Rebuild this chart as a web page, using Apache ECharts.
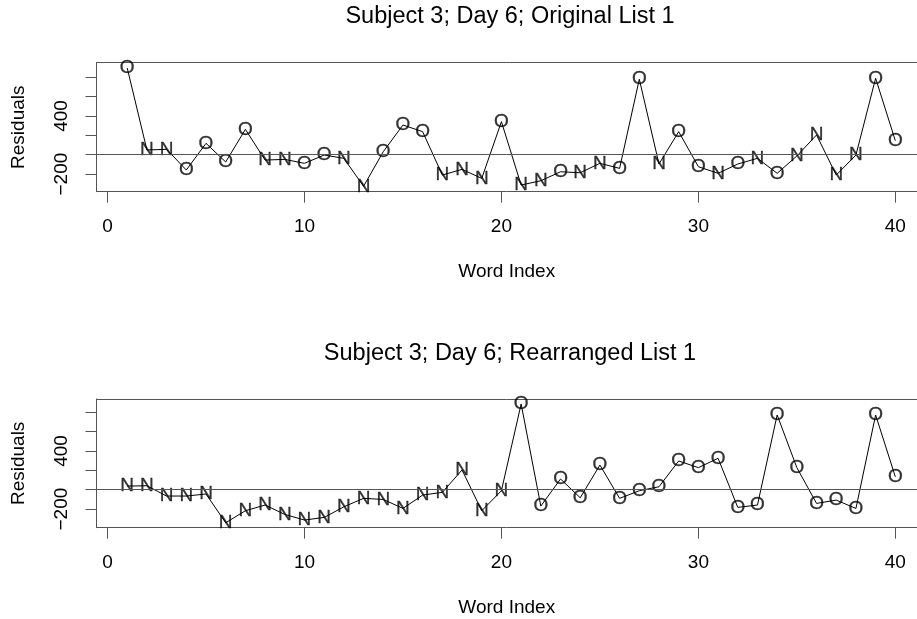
<!DOCTYPE html>
<html>
<head>
<meta charset="utf-8">
<script src="https://cdn.jsdelivr.net/npm/echarts@6/dist/echarts.min.js"></script>
<style>
  html, body { margin: 0; padding: 0; background: #fff; overflow: hidden; }
  #chart { width: 917px; height: 619px; }
</style>
</head>
<body>
<div id="chart"></div>
<script>
// Word positions along the list
const wordIndex = [1, 2, 3, 4, 5, 6, 7, 8, 9, 10,
                   11, 12, 13, 14, 15, 16, 17, 18, 19, 20,
                   21, 22, 23, 24, 25, 26, 27, 28, 29, 30,
                   31, 32, 33, 34, 35, 36, 37, 38, 39, 40];

// Original list: word type (N = new, O = old) and residuals
const originalType = ['O', 'N', 'N', 'O', 'O', 'O', 'O', 'N', 'N', 'O',
                      'O', 'N', 'N', 'O', 'O', 'O', 'N', 'N', 'N', 'O',
                      'N', 'N', 'O', 'N', 'N', 'O', 'O', 'N', 'O', 'O',
                      'N', 'O', 'N', 'O', 'N', 'N', 'N', 'N', 'O', 'O'];
const originalResid = [896, 49, 56, -158, 118, -75, 262, -55, -48, -89,
                       -3, -37, -326, 31, 307, 238, -210, -151, -244, 341,
                       -313, -269, -176, -186, -89, -141, 780, -96, 238, -124,
                       -192, -96, -37, -192, -13, 204, -210, -3, 790, 145];

// Rearranged list: word type and residuals
const rearrangedType = ['N', 'N', 'N', 'N', 'N', 'N', 'N', 'N', 'N', 'N',
                        'N', 'N', 'N', 'N', 'N', 'N', 'N', 'N', 'N', 'N',
                        'O', 'O', 'O', 'O', 'O', 'O', 'O', 'O', 'O', 'O',
                        'O', 'O', 'O', 'O', 'O', 'O', 'O', 'O', 'O', 'O'];
const rearrangedResid = [38, 41, -65, -65, -44, -341, -217, -158, -255, -313,
                         -286, -176, -89, -100, -193, -55, -27, 204, -217, -10,
                         886, -169, 111, -83, 255, -89, -10, 31, 297, 228,
                         325, -182, -158, 772, 228, -141, -107, -193, 772, 134];

// Axis ticks and the tick labels that are printed
const xTicks = [0, 10, 20, 30, 40];
const yTicks = [-200, 0, 200, 400, 600, 800];
const yTickLabels = [-200, 400];

const titles = ['Subject 3; Day 6; Original List 1', 'Subject 3; Day 6; Rearranged List 1'];

const FONT = '"Liberation Sans", Arial, Helvetica, sans-serif';
const BOX = '#555555';
const AXIS_FONT = 19;

// The plotting box runs past the right edge of the page, so only the
// left, top and bottom sides of the frame are visible.
const X_MIN = -0.56, X_MAX = 41.1;

const panels = [
  { top: 62.7, height: 129, yMin: -382, yMax: 951, types: originalType, resid: originalResid, titleY: 17 },
  { top: 399, height: 128.7, yMin: -392, yMax: 937, types: rearrangedType, resid: rearrangedResid, titleY: 353.5 }
];

const minus = v => (v < 0 ? '\u2212' + Math.abs(v) : String(v));

const grid = [], xAxis = [], yAxis = [], series = [], graphic = [];
const frameLine = { show: true, onZero: false, lineStyle: { color: BOX, width: 1 } };

panels.forEach((p, i) => {
  grid.push({ left: 96.5, top: p.top, right: 0, height: p.height, show: false });
  // bottom axis
  xAxis.push({
    type: 'value', gridIndex: i, position: 'bottom', min: X_MIN, max: X_MAX,
    axisLine: frameLine,
    splitLine: { show: false },
    axisTick: { show: true, customValues: xTicks, length: 11, lineStyle: { color: BOX, width: 1 } },
    axisLabel: { customValues: xTicks, margin: 25.5, fontSize: AXIS_FONT, color: '#000', fontFamily: FONT },
    name: 'Word Index', nameLocation: 'middle', nameGap: 71,
    nameTextStyle: { fontSize: AXIS_FONT, color: '#000', fontFamily: FONT }
  });
  // top edge of the frame
  xAxis.push({
    type: 'value', gridIndex: i, position: 'top', min: X_MIN, max: X_MAX,
    axisLine: frameLine,
    axisTick: { show: false }, axisLabel: { show: false }, splitLine: { show: false }
  });
  yAxis.push({
    type: 'value', gridIndex: i, position: 'left', min: p.yMin, max: p.yMax,
    axisLine: frameLine,
    splitLine: { show: false },
    axisTick: { show: true, customValues: yTicks, length: 11, lineStyle: { color: BOX, width: 1 } },
    axisLabel: { customValues: yTickLabels, rotate: 90, margin: 25, fontSize: AXIS_FONT, color: '#000',
                 fontFamily: FONT, formatter: minus },
    name: 'Residuals', nameLocation: 'middle', nameGap: 68,
    nameTextStyle: { fontSize: AXIS_FONT, color: '#000', fontFamily: FONT }
  });
  const pts = wordIndex.map((x, k) => [x, p.resid[k], p.types[k]]);
  series.push({
    type: 'line', xAxisIndex: 2 * i, yAxisIndex: i,
    data: pts.map(d => [d[0], d[1]]),
    symbol: 'none', silent: true,
    lineStyle: { color: '#000', width: 1 },
    markLine: {
      silent: true, symbol: ['none', 'none'], label: { show: false },
      lineStyle: { color: BOX, type: 'solid', width: 1 },
      data: [{ yAxis: 0 }]
    }
  });
  series.push({
    type: 'scatter', xAxisIndex: 2 * i, yAxisIndex: i,
    data: pts, symbolSize: 1, silent: true,
    itemStyle: { color: 'rgba(0,0,0,0)' },
    label: {
      show: true, position: 'inside', formatter: q => q.data[2],
      fontSize: 19, color: '#000', fontFamily: FONT,
      textBorderColor: '#000', textBorderWidth: 0.3
    }
  });
  graphic.push({
    type: 'text', x: 510, y: p.titleY,
    style: { text: titles[i], fontSize: 23.5, fontFamily: FONT, fill: '#000',
             align: 'center', verticalAlign: 'middle' }
  });
});

const chart = echarts.init(document.getElementById('chart'));
chart.setOption({
  animation: false,
  backgroundColor: '#fff',
  grid, xAxis, yAxis, series, graphic
});
</script>
</body>
</html>
